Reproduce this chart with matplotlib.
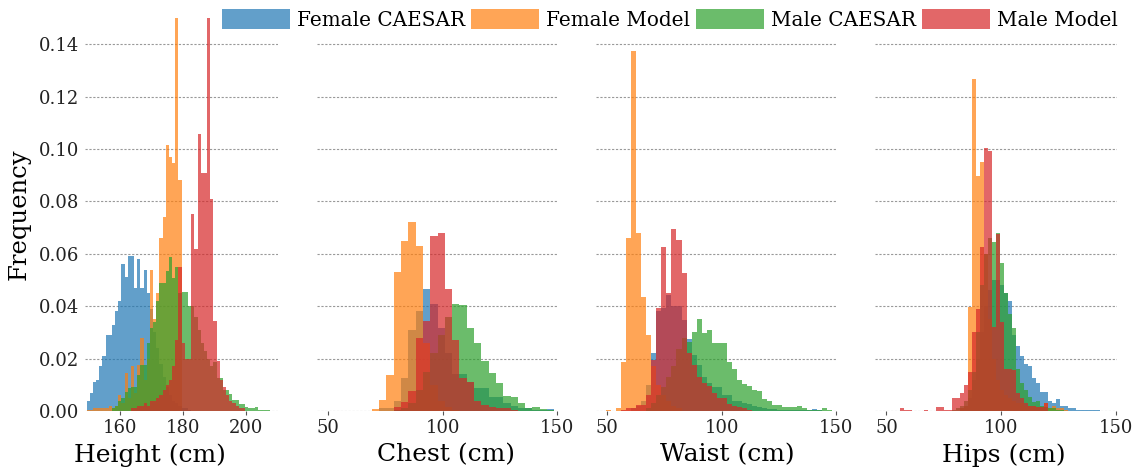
import numpy as np
import matplotlib
matplotlib.use("Agg")
import matplotlib.pyplot as plt
from matplotlib.patches import Patch

plt.rcParams['font.family'] = ['DejaVu Serif']

series_names = ["Female CAESAR", "Female Model", "Male CAESAR", "Male Model"]
series_colors = ["#1f77b4", "#ff7f0e", "#2ca02c", "#d62728"]

panel_labels = ["Height (cm)", "Chest (cm)", "Waist (cm)", "Hips (cm)"]
height_ticks = [160, 180, 200]
circ_ticks = [50, 100, 150]
y_ticks = [0.00, 0.02, 0.04, 0.06, 0.08, 0.10, 0.12, 0.14]

# ---------------- Height (1 cm bins starting at 149.6) ----------------
height_bin_start, height_bin_width = 149.6, 1.0
height_female_caesar = [0.004, 0.007, 0.011, 0.012, 0.017, 0.021, 0.029, 0.029, 0.033, 0.038,
                        0.042, 0.056, 0.051, 0.059, 0.059, 0.047, 0.058, 0.047, 0.054, 0.045,
                        0.039, 0.030, 0.024, 0.018, 0.013, 0.009, 0.006, 0.004, 0.003, 0.002,
                        0.001, 0.001, 0.0005]
height_female_model = [0.0005, 0.0005, 0.001, 0.001, 0.001, 0.001, 0.001, 0.002, 0.001, 0.002,
                       0.006, 0.003, 0.0144, 0.005, 0.017, 0.007, 0.0175, 0.028, 0.012, 0.020,
                       0.054, 0.035, 0.045, 0.066, 0.074, 0.1015, 0.097, 0.0945, 0.160, 0.088]
height_male_caesar = [0, 0, 0, 0, 0, 0, 0, 0, 0.001, 0.002,
                      0.004, 0.005, 0.0074, 0.0087, 0.009, 0.009, 0.0137, 0.0176, 0.0176, 0.026,
                      0.0315, 0.034, 0.042, 0.0487, 0.0487, 0.0536, 0.0586, 0.0506, 0.055, 0.045,
                      0.0455, 0.0455, 0.040, 0.040, 0.036, 0.031, 0.026, 0.023, 0.020, 0.017,
                      0.0188, 0.0126, 0.0126, 0.008, 0.008, 0.0063, 0.0043, 0.0043, 0.0027, 0.0027,
                      0.0015, 0.0011, 0.0011, 0.0015, 0.0003, 0.0003, 0.0003, 0.0003]
height_male_model = [0, 0, 0, 0, 0, 0, 0, 0, 0, 0,
                     0, 0, 0, 0, 0.001, 0.001, 0.002, 0.002, 0.003, 0.002,
                     0.004, 0.004, 0.005, 0.006, 0.008, 0.010, 0.012, 0.017, 0.027, 0.055,
                     0.026, 0.020, 0.020, 0.075, 0.062, 0.1057, 0.091, 0.091, 0.160, 0.081,
                     0.0345, 0.019, 0.012, 0.009, 0.006, 0.004, 0.003, 0.002, 0.001, 0.001]

# ---------------- Chest (3.2 cm bins starting at 69.0) ----------------
chest_bin_start, chest_bin_width = 69.0, 3.2
chest_female_caesar = [0.0, 0.001, 0.001, 0.004, 0.0125, 0.031, 0.038, 0.0466, 0.0407, 0.0316,
                       0.022, 0.014, 0.014, 0.011, 0.0087, 0.0087, 0.0055, 0.0055, 0.003, 0.002,
                       0.001, 0.001, 0.0005, 0.0005, 0.0006]
chest_female_model = [0.0006, 0.0042, 0.0137, 0.053, 0.065, 0.072, 0.063, 0.026, 0.010, 0.004,
                      0.0015, 0.0005]
chest_male_caesar = [0, 0, 0, 0.0005, 0.001, 0.003, 0.008, 0.015, 0.022, 0.029,
                     0.036, 0.0407, 0.0405, 0.0316, 0.026, 0.019, 0.0145, 0.0108, 0.0057, 0.0052,
                     0.0029, 0.001, 0.0017, 0.0006, 0.0003]
chest_male_model = [0, 0, 0, 0.0017, 0.0036, 0.0076, 0.0277, 0.0343, 0.0669, 0.0678,
                    0.0466, 0.027, 0.0125, 0.011, 0.004, 0.0023, 0.0014, 0.001, 0.001, 0.0005]

# ---------------- Waist (2.2 cm bins starting at 47.2) ----------------
waist_bin_start, waist_bin_width = 47.2, 2.2
waist_female_caesar = [0, 0, 0, 0, 0, 0, 0.001, 0.002, 0.004, 0.010,
                       0.022, 0.038, 0.0394, 0.0443, 0.040, 0.040, 0.0347, 0.0274, 0.0214, 0.0175,
                       0.013, 0.0105, 0.009, 0.009, 0.006, 0.006, 0.004, 0.004, 0.003, 0.0025,
                       0.002, 0.0015, 0.001, 0.0008, 0.0006, 0.0005, 0.0004, 0.0004, 0.0003, 0.0003,
                       0.0003, 0.0003, 0.0006, 0.0003]
waist_female_model = [0, 0.0004, 0, 0.001, 0.0188, 0.0659, 0.1375, 0.0678, 0.0436, 0.029,
                      0.017, 0.010, 0.006, 0.004, 0.002, 0.001]
waist_male_caesar = [0, 0, 0, 0, 0, 0, 0, 0, 0, 0.001,
                     0.003, 0.006, 0.009, 0.013, 0.017, 0.0235, 0.028, 0.0265, 0.0303, 0.035,
                     0.0299, 0.031, 0.0258, 0.0258, 0.0258, 0.0188, 0.016, 0.012, 0.0103, 0.0095,
                     0.008, 0.0075, 0.0045, 0.004, 0.0023, 0.0023, 0.0014, 0.0014, 0.0014, 0.0019,
                     0.001, 0.0005, 0.0003, 0.0003, 0.001, 0.0003]
waist_male_model = [0, 0, 0, 0, 0.0005, 0.001, 0.001, 0.0023, 0.0023, 0.006,
                    0.0195, 0.0394, 0.0625, 0.045, 0.0693, 0.0653, 0.0525, 0.022, 0.0175, 0.013,
                    0.0105, 0.0095, 0.007, 0.005, 0.005, 0.0025, 0.002, 0.0015, 0.001, 0.0005]

# ---------------- Hips (1.75 cm bins starting at 50.5) ----------------
hips_bin_start, hips_bin_width = 50.5, 1.75
hips_female_caesar = [0, 0, 0, 0, 0, 0, 0, 0, 0, 0,
                      0, 0, 0, 0, 0, 0, 0, 0, 0.001, 0.002,
                      0.005, 0.012, 0.020, 0.030, 0.040, 0.046, 0.050, 0.050, 0.048, 0.045,
                      0.042, 0.029, 0.025, 0.021, 0.018, 0.017, 0.0125, 0.0108, 0.0074, 0.0074,
                      0.0038, 0.0032, 0.0045, 0.002, 0.002, 0.001, 0.001, 0.0005, 0.0005, 0.0002,
                      0.0002, 0.0002, 0.0002, 0.0001, 0.0001]
hips_female_model = [0, 0, 0, 0, 0, 0, 0, 0, 0, 0,
                     0, 0, 0, 0, 0, 0, 0, 0, 0.001, 0.002,
                     0.0398, 0.1266, 0.0897, 0.0952, 0.060, 0.035, 0.020, 0.012, 0.008, 0.006,
                     0.005, 0.004, 0.003, 0.003, 0.002, 0.002, 0.002, 0.0015, 0.0015, 0.003,
                     0.001, 0.002, 0.001, 0.001, 0.0005]
hips_male_caesar = [0, 0, 0, 0, 0, 0, 0, 0, 0, 0,
                    0, 0, 0, 0, 0, 0, 0.0005, 0.001, 0.002, 0.004,
                    0.008, 0.015, 0.030, 0.048, 0.060, 0.066, 0.0646, 0.068, 0.0565, 0.045,
                    0.037, 0.0315, 0.016, 0.0106, 0.008, 0.0055, 0.0036, 0.004, 0.002, 0.0015,
                    0.001, 0.001, 0.0005, 0.0003]
hips_male_model = [0, 0, 0, 0.001, 0.0005, 0.0005, 0, 0, 0, 0.0004,
                   0, 0, 0.0015, 0.0015, 0.0005, 0.0003, 0.0048, 0.0048, 0.0067, 0.0099,
                   0.015, 0.030, 0.039, 0.0627, 0.1003, 0.0994, 0.032, 0.0674, 0.034, 0.016,
                   0.016, 0.0155, 0.0067, 0.005, 0.003, 0.002, 0.002, 0.0015, 0.0015, 0.003]

panels = [
    (height_bin_start, height_bin_width,
     [height_female_caesar, height_female_model, height_male_caesar, height_male_model],
     (149.1, 210.0), height_ticks),
    (chest_bin_start, chest_bin_width,
     [chest_female_caesar, chest_female_model, chest_male_caesar, chest_male_model],
     (45.0, 150.6), circ_ticks),
    (waist_bin_start, waist_bin_width,
     [waist_female_caesar, waist_female_model, waist_male_caesar, waist_male_model],
     (45.0, 150.4), circ_ticks),
    (hips_bin_start, hips_bin_width,
     [hips_female_caesar, hips_female_model, hips_male_caesar, hips_male_model],
     (45.0, 150.6), circ_ticks),
]

W, H = 1137, 469
fig = plt.figure(figsize=(W / 100, H / 100), dpi=100)
ax_boxes = [(85, 193), (317, 241), (596, 241), (875, 242)]
label_centers_px = [150, 446, 727, 1004]
bottom_px, top_px = 411, 18

for i, ((start, width, vals_list, xlim, xticks), (x0, w)) in enumerate(zip(panels, ax_boxes)):
    ax = fig.add_axes([x0 / W, (H - bottom_px) / H, w / W, (bottom_px - top_px) / H])
    for vals, color, name in zip(vals_list, series_colors, series_names):
        vals = np.asarray(vals, dtype=float)
        edges = start + width * np.arange(len(vals) + 1)
        ax.stairs(vals, edges, fill=True, color=color, alpha=0.7, linewidth=0, label=name)
    ax.set_xlim(*xlim)
    ax.set_ylim(0, 0.15)
    ax.set_yticks(y_ticks)
    ax.set_xticks(xticks)
    ax.set_axisbelow(True)
    ax.yaxis.grid(True, linestyle=(0, (2, 1.5)), color="#999999", linewidth=0.8)
    ax.xaxis.grid(False)
    for sp in ax.spines.values():
        sp.set_visible(False)
    ax.tick_params(axis="x", labelsize=13, length=3, width=0.8, color="#555555",
                   labelcolor="#222222", pad=3)
    ax.tick_params(axis="y", length=0, labelsize=13, labelcolor="#222222", pad=4)
    if i == 0:
        ax.set_yticklabels([f"{t:.2f}" for t in y_ticks])
        ax.set_ylabel("Frequency", fontsize=17.5, labelpad=6)
    else:
        ax.set_yticklabels([])
    ax.set_xlabel(panel_labels[i], fontsize=18)
    ax.xaxis.set_label_coords((label_centers_px[i] - x0) / w, -0.083)

handles = [Patch(facecolor=c, alpha=0.7, edgecolor="none") for c in series_colors]
fig.legend(handles, series_names, loc="upper right",
           bbox_to_anchor=(1124 / W, 1 - 3 / H),
           ncol=4, frameon=False, fontsize=14.4, handlelength=3.4, handleheight=1.2,
           handletextpad=0.35, columnspacing=0.3, borderaxespad=0.0, borderpad=0.3)

fig.savefig("out.png", dpi=100)
